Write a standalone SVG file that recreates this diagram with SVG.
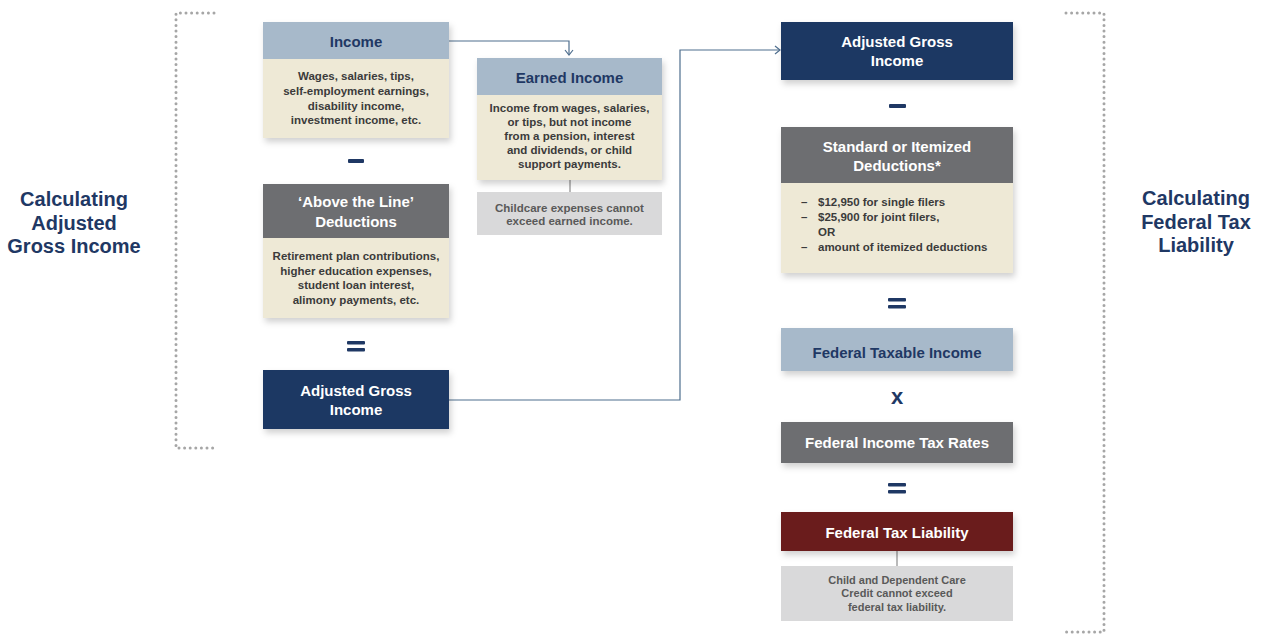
<svg xmlns="http://www.w3.org/2000/svg" width="1263" height="635" viewBox="0 0 1263 635">
<style>
.t{font-family:"Liberation Sans",Arial,sans-serif;font-weight:bold;text-anchor:middle}
.title{font-size:20px;fill:#1F3864}
.h{font-size:15px}
.hw{fill:#FFFFFF}
.hn{fill:#1F3864}
.b{font-size:11.5px;fill:#3B3B3B}
.g{font-size:11.5px;fill:#595959}
.op{fill:#1F3864}
.dot{fill:none;stroke:#A6A6A6;stroke-width:3;stroke-linecap:round;stroke-dasharray:0 5.6}
.conn{fill:none;stroke:#4E6E8E;stroke-width:1.2}
.tick{stroke:#8C8C8C;stroke-width:1.2}
</style>
<defs>
<filter id="sh" x="-10%" y="-10%" width="130%" height="140%">
<feDropShadow dx="2" dy="4" stdDeviation="3" flood-color="#000" flood-opacity="0.18"/>
</filter>
<marker id="arr" markerWidth="10" markerHeight="10" refX="8" refY="5" orient="auto" markerUnits="userSpaceOnUse">
<path d="M3,1 L8,5 L3,9" fill="none" stroke="#4E6E8E" stroke-width="1.2"/>
</marker>
</defs>
<rect width="1263" height="635" fill="#FFFFFF"/>

<g id="brackets">
<path class="dot" d="M214,13 H176 V448 H214"/>
<path class="dot" d="M1066,13 H1104 V632 H1066"/>
</g>

<g id="title-left">
<text class="t title" x="74" y="206">Calculating</text>
<text class="t title" x="74" y="229.5">Adjusted</text>
<text class="t title" x="74" y="253">Gross Income</text>
</g>
<g id="title-right">
<text class="t title" x="1196" y="205">Calculating</text>
<text class="t title" x="1196" y="229">Federal Tax</text>
<text class="t title" x="1196" y="252">Liability</text>
</g>

<g id="connectors">
<path class="conn" d="M449,41 H569 V55" marker-end="url(#arr)"/>
<path class="conn" d="M449,400 H680 V50 H780" marker-end="url(#arr)"/>
<line class="tick" x1="570" y1="180" x2="570" y2="192"/>
<line class="tick" x1="897" y1="551" x2="897" y2="566"/>
</g>

<g id="income">
<rect x="263" y="22" width="186" height="116" fill="#EEE9D6" filter="url(#sh)"/>
<rect x="263" y="22" width="186" height="37" fill="#A7B9CA"/>
<text class="t h hn" x="356" y="46.5">Income</text>
<text class="t b" x="356" y="80">Wages, salaries, tips,</text>
<text class="t b" x="356" y="95">self-employment earnings,</text>
<text class="t b" x="356" y="109.5">disability income,</text>
<text class="t b" x="356" y="124">investment income, etc.</text>
</g>

<g id="op-minus-left"><rect class="op" x="348" y="159" width="16" height="4" rx="1"/></g>

<g id="above-line">
<rect x="263" y="184" width="186" height="134" fill="#EEE9D6" filter="url(#sh)"/>
<rect x="263" y="184" width="186" height="54" fill="#6D6E71"/>
<text class="t h hw" x="356" y="206.5">‘Above the Line’</text>
<text class="t h hw" x="356" y="226.5">Deductions</text>
<text class="t b" x="356" y="260">Retirement plan contributions,</text>
<text class="t b" x="356" y="274.5">higher education expenses,</text>
<text class="t b" x="356" y="289">student loan interest,</text>
<text class="t b" x="356" y="304">alimony payments, etc.</text>
</g>

<g id="op-eq-left">
<rect class="op" x="347" y="341" width="18" height="3.5" rx="1"/>
<rect class="op" x="347" y="348" width="18" height="3.5" rx="1"/>
</g>

<g id="agi-left">
<rect x="263" y="370" width="186" height="59" fill="#1F3864" filter="url(#sh)"/>
<text class="t h hw" x="356" y="395.5">Adjusted Gross</text>
<text class="t h hw" x="356" y="414.5">Income</text>
</g>

<g id="earned-income">
<rect x="477" y="58" width="185" height="122" fill="#EEE9D6" filter="url(#sh)"/>
<rect x="477" y="58" width="185" height="37" fill="#A7B9CA"/>
<text class="t h hn" x="569.5" y="82.5">Earned Income</text>
<text class="t b" x="569.5" y="112">Income from wages, salaries,</text>
<text class="t b" x="569.5" y="126">or tips, but not income</text>
<text class="t b" x="569.5" y="140">from a pension, interest</text>
<text class="t b" x="569.5" y="154">and dividends, or child</text>
<text class="t b" x="569.5" y="167.5">support payments.</text>
</g>

<g id="childcare-note">
<rect x="477" y="192" width="185" height="43" fill="#D9D9DA"/>
<text class="t g" x="569.5" y="212">Childcare expenses cannot</text>
<text class="t g" x="569.5" y="225">exceed earned income.</text>
</g>

<g id="agi-right">
<rect x="781" y="22" width="232" height="58" fill="#1F3864" filter="url(#sh)"/>
<text class="t h hw" x="897" y="46.5">Adjusted Gross</text>
<text class="t h hw" x="897" y="65.5">Income</text>
</g>

<g id="op-minus-right"><rect class="op" x="889" y="104" width="17" height="4" rx="1"/></g>

<g id="standard-deductions">
<rect x="781" y="127" width="232" height="146" fill="#EEE9D6" filter="url(#sh)"/>
<rect x="781" y="127" width="232" height="56" fill="#6D6E71"/>
<text class="t h hw" x="897" y="151.5">Standard or Itemized</text>
<text class="t h hw" x="897" y="170.5">Deductions*</text>
<g class="t b" style="text-anchor:start">
<text x="801" y="206">–</text><text x="818" y="206">$12,950 for single filers</text>
<text x="801" y="220.5">–</text><text x="818" y="220.5">$25,900 for joint filers,</text>
<text x="818" y="236">OR</text>
<text x="801" y="251">–</text><text x="818" y="251">amount of itemized deductions</text>
</g>
</g>

<g id="op-eq-right-1">
<rect class="op" x="888" y="298" width="18" height="3.5" rx="1"/>
<rect class="op" x="888" y="305" width="18" height="3.5" rx="1"/>
</g>

<g id="federal-taxable-income">
<rect x="781" y="328" width="232" height="43" fill="#A7B9CA" filter="url(#sh)"/>
<text class="t h hn" x="897" y="357.5">Federal Taxable Income</text>
</g>

<g id="op-times"><text class="t op" x="897" y="404" style="font-size:22px">x</text></g>

<g id="federal-tax-rates">
<rect x="781" y="422" width="232" height="41" fill="#6D6E71" filter="url(#sh)"/>
<text class="t h hw" x="897" y="447.5">Federal Income Tax Rates</text>
</g>

<g id="op-eq-right-2">
<rect class="op" x="888" y="483" width="18" height="3.5" rx="1"/>
<rect class="op" x="888" y="490" width="18" height="3.5" rx="1"/>
</g>

<g id="federal-tax-liability">
<rect x="781" y="512" width="232" height="39" fill="#6B1A1A" filter="url(#sh)"/>
<text class="t h hw" x="897" y="537.5">Federal Tax Liability</text>
</g>

<g id="credit-note">
<rect x="781" y="566" width="232" height="55" fill="#D9D9DA"/>
<text class="t g" x="897" y="584" style="font-size:11px">Child and Dependent Care</text>
<text class="t g" x="897" y="597" style="font-size:11px">Credit cannot exceed</text>
<text class="t g" x="897" y="611" style="font-size:11px">federal tax liability.</text>
</g>
</svg>
